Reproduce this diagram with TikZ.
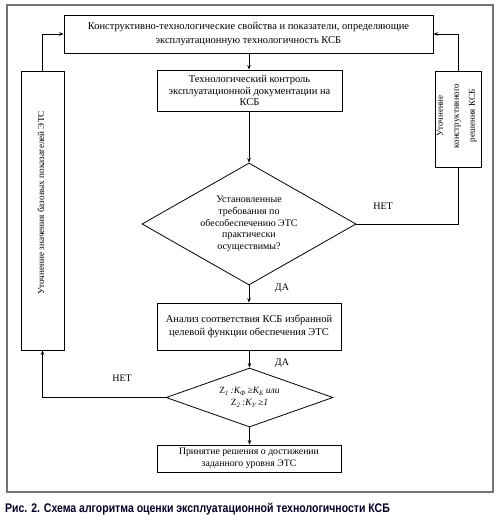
\documentclass[tikz,border=0pt]{standalone}
\usepackage{fontspec}
\setmainfont{Liberation Serif}
\newfontfamily\capfont[FakeStretch=0.84]{Liberation Sans}
\usetikzlibrary{arrows.meta,shapes.geometric}
\tikzset{
  box/.style={draw=black, line width=0.8pt, inner sep=0pt, align=center, font=\fontsize{10.3}{12.5}\selectfont},
  dia/.style={draw=black, line width=0.8pt, shape=diamond, inner sep=0pt},
  txt/.style={inner sep=0pt, align=center, font=\fontsize{10}{11.6}\selectfont},
  lbl/.style={inner sep=0pt, font=\fontsize{10}{12}\selectfont},
  conn/.style={line width=0.8pt},
  arr/.style={conn, -{Stealth[length=4.5pt,width=3.5pt]}}
}
\begin{document}
\begin{tikzpicture}[x=1pt,y=-1pt]
\useasboundingbox (0,0) rectangle (503,515);
\fill[white] (0,0) rectangle (503,515);
\draw[draw=black!55, line width=1.3pt] (7,5) rectangle (493,492);

\node[box, minimum width=369pt, minimum height=38pt, font=\fontsize{10.5}{14.5}\selectfont] (top) at (248.5,34)
  {Конструктивно-технологические свойства и показатели, определяющие\\эксплуатационную технологичность КСБ};
\node[box, minimum width=185pt, minimum height=41pt, font=\fontsize{10.5}{11.8}\selectfont] (b2) at (249.5,90.5)
  {Технологический контроль\\эксплуатационной документации на\\КСБ};
\node[box, minimum width=43pt, minimum height=279pt] (lb) at (42.5,210.5) {};
\node[txt, rotate=90, font=\fontsize{9.2}{11}\selectfont] (lbt) at (41,203) {Уточнение значения базовых показателей ЭТС};
\node[box, minimum width=46pt, minimum height=96pt] (rb) at (458,119) {};
\node[txt, rotate=90, font=\fontsize{9}{16}\selectfont] (rbt) at (457,116) {Уточнение\\конструктивного\\решения КСБ};

\node[dia, minimum width=214pt, minimum height=122pt] (d1) at (249,224) {};
\node[txt] (d1t) at (d1.center) {Установленные\\требования по\\обесобеспечению ЭТС\\практически\\осуществимы?};

\node[box, minimum width=184pt, minimum height=47pt, font=\fontsize{10.5}{13}\selectfont] (b3) at (249,326.5)
  {Анализ соответствия КСБ избранной\\целевой функции обеспечения ЭТС};

\node[dia, minimum width=167pt, minimum height=59pt] (d2) at (249.5,397.5) {};
\node[txt, font=\fontsize{9.5}{12}\selectfont\itshape] (d2t) at (d2.center)
  {{\upshape Z}\textsubscript{1}\,:K\textsubscript{Ф}\,≥K\textsubscript{Б} или\\{\upshape Z}\textsubscript{2}\,:K\textsubscript{У}\,≥1};

\node[box, minimum width=184pt, minimum height=27pt, font=\fontsize{9.8}{11.5}\selectfont] (b4) at (249,458.5)
  {Принятие решения о достижении\\заданного уровня ЭТС};

\draw[arr] (top.south -| 249,0) -- (b2.north -| 249,0);
\draw[arr] (b2.south -| 249,0) -- (d1.north);
\draw[arr] (d1.south) -- (b3.north -| d1.south);
\draw[arr] (b3.south -| d2.north) -- (d2.north);
\draw[arr] (d2.south) -- (b4.north -| d2.south);
\draw[arr] (lb.north) |- (top.west);
\draw[arr] (rb.north) |- (top.east);
\draw[conn] (d1.east) -| (rb.south);
\draw[arr] (d2.west) -| (lb.south);

\node[lbl] (net1) at (383,206) {НЕТ};
\node[lbl] (da1) at (282,288) {ДА};
\node[lbl] (da2) at (282,363) {ДА};
\node[lbl] (net2) at (122,378) {НЕТ};

\node[anchor=west, inner sep=0pt, text=black!85!blue, font=\capfont\bfseries\fontsize{12.5}{14}\selectfont] (cap) at (5,509)
  {Рис. 2. Схема алгоритма оценки эксплуатационной технологичности КСБ};
\end{tikzpicture}
\end{document}
